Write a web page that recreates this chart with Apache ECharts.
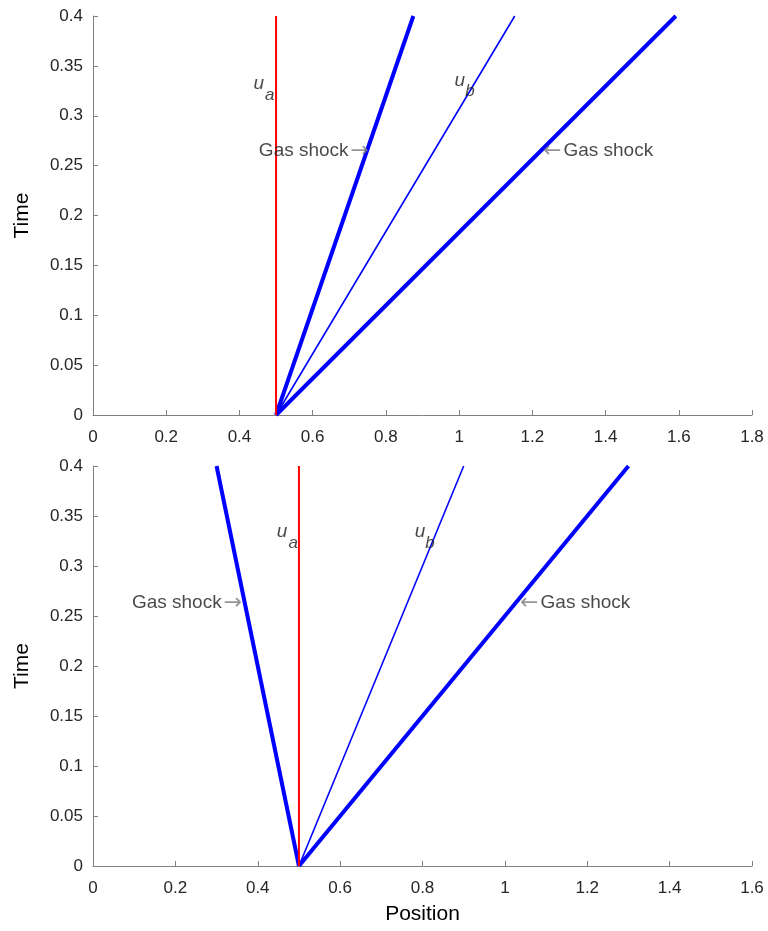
<!DOCTYPE html>
<html>
<head>
<meta charset="utf-8">
<script src="https://cdn.jsdelivr.net/npm/echarts@6/dist/echarts.min.js"></script>
<style>
  html, body { margin: 0; padding: 0; background: #fff; }
  #chart { width: 768px; height: 931px; }
</style>
</head>
<body>
<div id="chart"></div>
<script>
// time at the two ends of every line
const times = [0, 0.4];

// top panel: positions at t=0 and t=0.4
const topUa = [0.5, 0.5];
const topShockLeft = [0.5, 0.875];
const topUb = [0.5, 1.152];
const topShockRight = [0.5, 1.592];

// bottom panel
const botShockLeft = [0.5, 0.3];
const botUa = [0.5, 0.5];
const botUb = [0.5, 0.9];
const botShockRight = [0.5, 1.3];

// axis ranges
const topXMax = 1.8;
const botXMax = 1.6;
const yMax = 0.4;

// annotations [x, t, text, side]
const topNotes = [
  [0.754, 0.2647, "Gas shock", "left"],
  [1.229, 0.2647, "Gas shock", "right"]
];
const botNotes = [
  [0.362, 0.263, "Gas shock", "left"],
  [1.037, 0.263, "Gas shock", "right"]
];
// velocity labels [x, t, subX, subT, sub]
const topVel = [
  [0.453, 0.332, 0.483, 0.321, "a"],
  [1.002, 0.335, 1.030, 0.325, "b"]
];
const botVel = [
  [0.459, 0.334, 0.486, 0.323, "a"],
  [0.794, 0.334, 0.818, 0.323, "b"]
];

const FONT = "Liberation Sans, Arial, sans-serif";
const TEXT = "#262626";
const AXIS = "#808080";

const toPts = (xs) => xs.map((x, i) => [x, times[i]]);

const xAxisFor = (idx, max, withName) => ({
  type: "value",
  gridIndex: idx,
  min: 0,
  max: max,
  interval: 0.2,
  splitLine: { show: false },
  axisLine: { lineStyle: { color: AXIS, width: 1 } },
  axisTick: { inside: true, length: 5, lineStyle: { color: AXIS } },
  axisLabel: {
    color: TEXT, fontSize: 17, fontFamily: FONT, margin: 14,
    formatter: (v) => String(Math.round(v * 10) / 10)
  },
  name: withName ? "Position" : "",
  nameLocation: "middle",
  nameGap: 38,
  nameTextStyle: { color: "#000", fontSize: 21, fontFamily: FONT }
});

const yAxisFor = (idx) => ({
  type: "value",
  gridIndex: idx,
  min: 0,
  max: yMax,
  interval: 0.05,
  splitLine: { show: false },
  axisLine: { lineStyle: { color: AXIS, width: 1 } },
  axisTick: { inside: true, length: 5, lineStyle: { color: AXIS } },
  axisLabel: {
    color: TEXT, fontSize: 17, fontFamily: FONT, margin: 10,
    formatter: (v) => String(Math.round(v * 100) / 100)
  },
  name: "Time",
  nameLocation: "middle",
  nameGap: 60,
  nameTextStyle: { color: "#000", fontSize: 21, fontFamily: FONT }
});

const lineSeries = (idx, xs, color, width) => ({
  type: "line",
  xAxisIndex: idx,
  yAxisIndex: idx,
  data: toPts(xs),
  showSymbol: false,
  silent: true,
  lineStyle: { color: color, width: width },
  z: color === "#ff0000" ? 3 : 2
});

const noteSeries = (idx, notes) => ({
  type: "scatter",
  xAxisIndex: idx,
  yAxisIndex: idx,
  symbolSize: 0,
  silent: true,
  z: 5,
  data: notes.map((n) => ({
    value: [n[0], n[1]],
    label: {
      show: true,
      position: n[3],
      distance: 0,
      formatter: n[3] === "left" ? "{t|" + n[2] + "}{a|→}" : "{b|←}{t|" + n[2] + "}",
      rich: {
        t: { fontSize: 19, color: "#1a1a1a", fontFamily: FONT },
        a: { fontSize: 22, color: "#7a7a7a", fontFamily: "DejaVu Sans", padding: [0, 0, 0, 2] },
        b: { fontSize: 22, color: "#7a7a7a", fontFamily: "DejaVu Sans", padding: [0, 2, 0, 0] }
      }
    }
  }))
});

const velSeries = (idx, vel) => ({
  type: "scatter",
  xAxisIndex: idx,
  yAxisIndex: idx,
  symbolSize: 0,
  silent: true,
  z: 5,
  data: vel.flatMap((v) => [
    {
      value: [v[0], v[1]],
      label: { show: true, position: "inside", formatter: "u", fontSize: 19,
        fontStyle: "italic", color: "#1a1a1a", fontFamily: FONT }
    },
    {
      value: [v[2], v[3]],
      label: { show: true, position: "inside", formatter: v[4], fontSize: 17,
        fontStyle: "italic", color: "#1a1a1a", fontFamily: FONT }
    }
  ])
});

const chart = echarts.init(document.getElementById("chart"));
chart.setOption({
  animation: false,
  backgroundColor: "#fff",
  grid: [
    { left: 93, right: 16, top: 16, height: 399 },
    { left: 93, right: 16, top: 466, height: 400 }
  ],
  xAxis: [xAxisFor(0, topXMax, false), xAxisFor(1, botXMax, true)],
  yAxis: [yAxisFor(0), yAxisFor(1)],
  series: [
    lineSeries(0, topUa, "#ff0000", 2),
    lineSeries(0, topShockLeft, "#0000ff", 4),
    lineSeries(0, topUb, "#0000ff", 1.6),
    lineSeries(0, topShockRight, "#0000ff", 4),
    lineSeries(1, botShockLeft, "#0000ff", 4),
    lineSeries(1, botUa, "#ff0000", 2),
    lineSeries(1, botUb, "#0000ff", 1.6),
    lineSeries(1, botShockRight, "#0000ff", 4),
    noteSeries(0, topNotes),
    noteSeries(1, botNotes),
    velSeries(0, topVel),
    velSeries(1, botVel)
  ]
});
</script>
</body>
</html>
